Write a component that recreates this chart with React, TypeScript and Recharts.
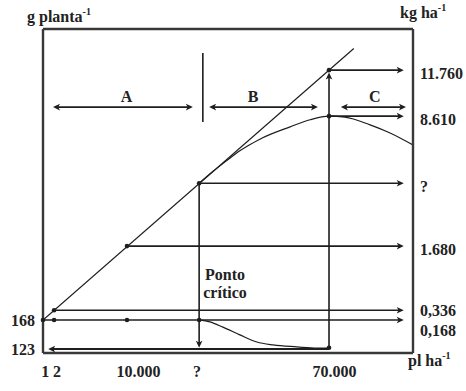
import React from 'react';
import {
  ComposedChart,
  XAxis,
  YAxis,
  Line,
  ReferenceLine,
  ReferenceDot,
} from 'recharts';

const FONT = '"Liberation Serif", "Times New Roman", serif';
const INK = '#1e1e1e';
const FRAME = '#383838';

// Schematic diagram: both axes run on a 0-100 schematic scale.
const xTickValues = [0.6, 3.8, 25.8, 41.6, 78.8];
const xTickLabels = ['1', '2', '10.000', '?', '70.000'];
const leftTickValues = [10.2, 1.2];
const leftTickLabels = ['168', '123'];
const rightTickValues = [87.3, 73.1, 52.4, 33, 13.2, 10.2];
const rightTickLabels = ['11.760', '8.610', '?', '1.680', '0,336', '0,168'];

// potential yield (linear: 168 g per plant)
const potentialYield = [
  { x: 0, y: 10.2 },
  { x: 84, y: 94 },
];
// real yield per hectare
const actualYield = [
  { x: 42.2, y: 52.4 },
  { x: 45.9, y: 56.0 },
  { x: 49.7, y: 59.4 },
  { x: 53.2, y: 62.4 },
  { x: 58.6, y: 66.0 },
  { x: 66.8, y: 69.8 },
  { x: 72.2, y: 72.0 },
  { x: 77.3, y: 73.1 },
  { x: 81.6, y: 72.8 },
  { x: 88.4, y: 70.4 },
  { x: 93.8, y: 67.9 },
  { x: 100, y: 64.2 },
];
// grams per plant
const plantMass = [
  { x: 42.2, y: 10.2 },
  { x: 45.1, y: 9.6 },
  { x: 48.6, y: 8.0 },
  { x: 53.2, y: 5.6 },
  { x: 57.8, y: 3.4 },
  { x: 62.2, y: 2.5 },
  { x: 68.6, y: 1.9 },
  { x: 74.1, y: 1.5 },
  { x: 77.3, y: 1.6 },
];
const markedPoints = [
  { x: 0, y: 10.2 },
  { x: 3, y: 10.2 },
  { x: 22.7, y: 10.2 },
  { x: 42.2, y: 10.2 },
  { x: 3, y: 13.2 },
  { x: 22.7, y: 33 },
  { x: 42.2, y: 52.4 },
  { x: 77.3, y: 87.3 },
  { x: 77.3, y: 73.1 },
  { x: 77.3, y: 1.6 },
];
const arrows = [
  { x1: 77.3, y1: 87.3, x2: 97.5, y2: 87.3, heads: 'end', w: 1.6 },
  { x1: 77.3, y1: 73.1, x2: 97.5, y2: 73.1, heads: 'end', w: 1.6 },
  { x1: 42.2, y1: 52.4, x2: 97.5, y2: 52.4, heads: 'end', w: 1.6 },
  { x1: 22.7, y1: 33, x2: 97.5, y2: 33, heads: 'end', w: 1.6 },
  { x1: 3, y1: 13.2, x2: 97.5, y2: 13.2, heads: 'end', w: 1.6 },
  { x1: 0, y1: 10.2, x2: 97.5, y2: 10.2, heads: 'end', w: 1.6 },
  { x1: 77.3, y1: 1.2, x2: 1.4, y2: 1.2, heads: 'end', w: 2 },
  { x1: 42.2, y1: 52.4, x2: 42.2, y2: 1.6, heads: 'end', w: 1.6 },
  { x1: 77.3, y1: 1.6, x2: 77.3, y2: 86.6, heads: 'end', w: 1.6 },
  { x1: 2.7, y1: 75.9, x2: 40.5, y2: 75.9, heads: 'both', w: 1.6 },
  { x1: 44.9, y1: 75.9, x2: 74.3, y2: 75.9, heads: 'both', w: 1.6 },
  { x1: 80.5, y1: 75.9, x2: 98.1, y2: 75.9, heads: 'both', w: 1.6 },
  { x1: 43.2, y1: 92.6, x2: 43.2, y2: 71.3, heads: 'none', w: 1.6 },
];
const zoneLabels = [
  { text: 'A', x: 22.6, y: 77.5 },
  { text: 'B', x: 56.8, y: 77.5 },
  { text: 'C', x: 89.7, y: 77.5 },
];
// unit titles anchored to the plot corners
const unitTitles = [
  { text: 'g planta', x: 0, y: 100, dx: -16, dy: -7 },
  { text: 'kg ha', x: 100, y: 100, dx: -13, dy: -11 },
  { text: 'pl ha', x: 100, y: 0, dx: -5, dy: 13 },
];
const criticalPoint = { x: 49.2, y: 21.3, lines: ['Ponto', 'crítico'] };

const head = (tx: number, ty: number, ux: number, uy: number, key: string) => {
  const L = 7;
  const W = 3.3;
  const bx = tx - ux * L;
  const by = ty - uy * L;
  const nx = -uy;
  const ny = ux;
  const mx = tx - ux * L * 0.75;
  const my = ty - uy * L * 0.75;
  const pts = [
    [tx, ty],
    [bx + nx * W, by + ny * W],
    [mx, my],
    [bx - nx * W, by - ny * W],
  ]
    .map((p) => p.join(','))
    .join(' ');
  return <polygon key={key} points={pts} fill={INK} stroke="none" />;
};

const arrowShape = (heads: string, w: number) => (p: any) => {
  const { x1, y1, x2, y2 } = p;
  const dx = x2 - x1;
  const dy = y2 - y1;
  const len = Math.hypot(dx, dy) || 1;
  const ux = dx / len;
  const uy = dy / len;
  const ex = heads === 'none' ? x2 : x2 - ux * 4;
  const ey = heads === 'none' ? y2 : y2 - uy * 4;
  const sx = heads === 'both' ? x1 + ux * 4 : x1;
  const sy = heads === 'both' ? y1 + uy * 4 : y1;
  return (
    <g>
      <line x1={sx} y1={sy} x2={ex} y2={ey} stroke={INK} strokeWidth={w} />
      {heads !== 'none' && head(x2, y2, ux, uy, 'e')}
      {heads === 'both' && head(x1, y1, -ux, -uy, 's')}
    </g>
  );
};

const textStyle = { fontFamily: FONT, fontWeight: 700, fontSize: 16, fill: '#222' };

const XTick = (props: any) => {
  const { x, y, payload } = props;
  const i = xTickValues.indexOf(payload.value);
  return (
    <text x={x} y={y + 24} textAnchor="middle" style={textStyle}>
      {xTickLabels[i]}
    </text>
  );
};

const LeftTick = (props: any) => {
  const { x, y, payload } = props;
  const i = leftTickValues.indexOf(payload.value);
  return (
    <text x={x - 8} y={y + 6} textAnchor="end" style={textStyle}>
      {leftTickLabels[i]}
    </text>
  );
};

const RightTick = (props: any) => {
  const { x, y, payload } = props;
  const i = rightTickValues.indexOf(payload.value);
  const crowdedAbove = i > 0 && rightTickValues[i - 1] - rightTickValues[i] < 5;
  const crowdedBelow =
    i < rightTickValues.length - 1 && rightTickValues[i] - rightTickValues[i + 1] < 5;
  const off = crowdedAbove ? 16 : crowdedBelow ? 6 : 9;
  return (
    <text x={x + 7} y={y + off} textAnchor="start" style={textStyle}>
      {rightTickLabels[i]}
    </text>
  );
};

// text drawn as the shape of a reference dot (cx, cy from the chart scales)
const unitShape = (main: string, dx: number, dy: number) => (p: any) => (
  <text x={p.cx + dx} y={p.cy + dy} textAnchor="start" style={textStyle}>
    {main}
    <tspan fontSize={10} dy={-7}>
      -1
    </tspan>
  </text>
);

const letterShape = (t: string) => (p: any) => (
  <text x={p.cx} y={p.cy} textAnchor="middle" style={textStyle}>
    {t}
  </text>
);

const multiLineShape = (lines: string[]) => (p: any) => {
  const step = 18;
  const start = p.cy - ((lines.length - 1) * step) / 2 + 5;
  return (
    <text textAnchor="middle" style={textStyle}>
      {lines.map((l, k) => (
        <tspan key={k} x={p.cx} y={start + k * step}>
          {l}
        </tspan>
      ))}
    </text>
  );
};

export default function App() {
  return (
    <div style={{ position: 'absolute', left: 0, top: 0, width: 466, height: 391, background: '#fff' }}>
      <ComposedChart width={466} height={391} margin={{ top: 29, right: 0, bottom: 0, left: 0 }}>
        <XAxis
          dataKey="x"
          type="number"
          domain={[0, 100]}
          ticks={xTickValues}
          tick={<XTick />}
          tickLine={false}
          tickSize={0}
          tickMargin={0}
          height={38}
          interval={0}
          axisLine={{ stroke: FRAME, strokeWidth: 2.4 }}
          allowDataOverflow
        />
        <YAxis
          yAxisId="g"
          type="number"
          domain={[0, 100]}
          ticks={leftTickValues}
          tick={<LeftTick />}
          tickLine={false}
          tickSize={0}
          tickMargin={0}
          width={43}
          interval={0}
          axisLine={{ stroke: FRAME, strokeWidth: 2.4 }}
          allowDataOverflow
        />
        <YAxis
          yAxisId="kg"
          orientation="right"
          type="number"
          domain={[0, 100]}
          ticks={rightTickValues}
          tick={<RightTick />}
          tickLine={false}
          tickSize={0}
          tickMargin={0}
          width={53}
          interval={0}
          axisLine={{ stroke: FRAME, strokeWidth: 2.4 }}
          allowDataOverflow
        />

        <ReferenceLine yAxisId="g" y={100} stroke={FRAME} strokeWidth={2.4} ifOverflow="visible" />

        <Line
          yAxisId="g"
          data={potentialYield}
          dataKey="y"
          type="linear"
          stroke={INK}
          strokeWidth={1.2}
          dot={false}
          activeDot={false}
          isAnimationActive={false}
        />
        <Line
          yAxisId="g"
          data={actualYield}
          dataKey="y"
          type="monotone"
          stroke={INK}
          strokeWidth={1.2}
          dot={false}
          activeDot={false}
          isAnimationActive={false}
        />
        <Line
          yAxisId="g"
          data={plantMass}
          dataKey="y"
          type="monotone"
          stroke={INK}
          strokeWidth={1.2}
          dot={false}
          activeDot={false}
          isAnimationActive={false}
        />

        {arrows.map((a, k) => (
          <ReferenceLine
            key={`a${k}`}
            yAxisId="g"
            segment={[
              { x: a.x1, y: a.y1 },
              { x: a.x2, y: a.y2 },
            ]}
            ifOverflow="visible"
            shape={arrowShape(a.heads, a.w)}
          />
        ))}

        {markedPoints.map((p, k) => (
          <ReferenceDot
            key={`p${k}`}
            yAxisId="g"
            x={p.x}
            y={p.y}
            r={2.3}
            fill={INK}
            stroke="none"
            ifOverflow="visible"
          />
        ))}

        {zoneLabels.map((z, k) => (
          <ReferenceDot
            key={`z${k}`}
            yAxisId="g"
            x={z.x}
            y={z.y}
            r={1}
            ifOverflow="visible"
            shape={letterShape(z.text)}
          />
        ))}

        {unitTitles.map((t, k) => (
          <ReferenceDot
            key={`t${k}`}
            yAxisId="g"
            x={t.x}
            y={t.y}
            r={1}
            ifOverflow="visible"
            shape={unitShape(t.text, t.dx, t.dy)}
          />
        ))}

        <ReferenceDot
          yAxisId="g"
          x={criticalPoint.x}
          y={criticalPoint.y}
          r={1}
          ifOverflow="visible"
          shape={multiLineShape(criticalPoint.lines)}
        />
      </ComposedChart>
    </div>
  );
}
